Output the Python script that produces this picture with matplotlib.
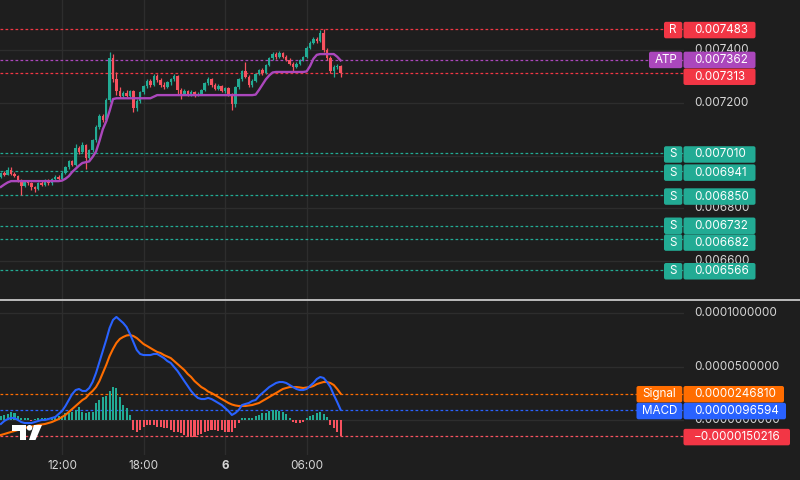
import matplotlib
matplotlib.use('Agg')
import matplotlib.pyplot as plt
import numpy as np
from matplotlib.patches import FancyBboxPatch, Polygon, Circle
from matplotlib.transforms import IdentityTransform

plt.rcParams['font.family'] = ['Inter', 'DejaVu Sans']

# 15 minute bars, bar 0 = 07:30 (prices in 1e-6)
opens = [6920, 6932, 6928, 6945, 6930, 6924, 6905, 6886, 6900, 6894, 6880, 6872, 6896, 6890, 6905, 6895, 6910, 6920, 6912, 6935,
         6955, 6978, 6966, 7030, 7012, 7040, 6990, 7020, 7058, 7108, 7150, 7136, 7212, 7372, 7292, 7245, 7228, 7238, 7228, 7244,
         7180, 7208, 7240, 7264, 7282, 7270, 7302, 7286, 7270, 7262, 7278, 7290, 7302, 7250, 7236, 7246, 7234, 7242, 7230, 7236,
         7250, 7275, 7292, 7268, 7255, 7266, 7246, 7256, 7232, 7196, 7260, 7290, 7320, 7300, 7270, 7285, 7310, 7325, 7315, 7345,
         7370, 7385, 7375, 7390, 7376, 7364, 7350, 7338, 7350, 7364, 7375, 7410, 7430, 7445, 7436, 7468, 7402, 7372, 7322, 7338,
         7342]
highs = [6938, 6942, 6955, 6958, 6936, 6928, 6910, 6905, 6908, 6898, 6885, 6900, 6902, 6910, 6910, 6915, 6925, 6926, 6940, 6962,
         6985, 6984, 7045, 7038, 7050, 7044, 7025, 7065, 7115, 7160, 7158, 7220, 7392, 7385, 7318, 7262, 7245, 7248, 7250, 7250,
         7215, 7245, 7270, 7290, 7290, 7312, 7310, 7295, 7278, 7285, 7295, 7312, 7308, 7258, 7252, 7250, 7248, 7246, 7242, 7255,
         7280, 7300, 7296, 7275, 7272, 7270, 7262, 7260, 7238, 7265, 7295, 7325, 7355, 7306, 7290, 7315, 7330, 7332, 7350, 7375,
         7395, 7392, 7396, 7394, 7382, 7370, 7355, 7356, 7368, 7380, 7415, 7435, 7450, 7452, 7478, 7483, 7410, 7380, 7345, 7348,
         7346]
lows = [6915, 6922, 6925, 6926, 6918, 6900, 6852, 6880, 6888, 6870, 6862, 6868, 6884, 6886, 6890, 6890, 6905, 6905, 6908, 6930,
        6950, 6960, 6962, 7005, 7008, 6950, 6982, 7015, 7050, 7100, 7128, 7130, 7205, 7280, 7232, 7220, 7220, 7222, 7224, 7165,
        7168, 7200, 7235, 7258, 7262, 7265, 7280, 7262, 7255, 7258, 7270, 7285, 7232, 7215, 7230, 7228, 7226, 7224, 7225, 7230,
        7245, 7268, 7262, 7248, 7250, 7240, 7238, 7225, 7175, 7185, 7255, 7285, 7295, 7262, 7262, 7280, 7305, 7308, 7310, 7340,
        7365, 7368, 7370, 7370, 7358, 7345, 7320, 7332, 7345, 7360, 7370, 7405, 7425, 7428, 7432, 7395, 7365, 7315, 7300, 7330,
        7300]
closes = [6932, 6928, 6945, 6930, 6924, 6905, 6886, 6900, 6894, 6880, 6872, 6896, 6890, 6905, 6895, 6910, 6920, 6912, 6935, 6955,
          6978, 6966, 7030, 7012, 7040, 6990, 7020, 7058, 7108, 7150, 7136, 7212, 7372, 7292, 7245, 7228, 7238, 7228, 7244, 7180,
          7208, 7240, 7264, 7282, 7270, 7302, 7286, 7270, 7262, 7278, 7290, 7302, 7250, 7236, 7246, 7234, 7242, 7230, 7236, 7250,
          7275, 7292, 7268, 7255, 7266, 7246, 7256, 7232, 7196, 7260, 7290, 7320, 7300, 7270, 7285, 7310, 7325, 7315, 7345, 7370,
          7385, 7375, 7390, 7376, 7364, 7350, 7338, 7350, 7364, 7375, 7410, 7430, 7445, 7436, 7468, 7402, 7372, 7322, 7338, 7342,
          7313]
atp = [6881, 6890, 6898, 6903, 6903, 6903, 6903, 6903, 6903, 6903, 6903, 6903, 6903, 6903, 6903, 6903, 6903, 6903, 6905, 6912,
       6922, 6938, 6950, 6962, 6972, 6975, 6978, 6995, 7015, 7055, 7100, 7130, 7170, 7215, 7218, 7218, 7218, 7218, 7218, 7218,
       7218, 7218, 7218, 7218, 7218, 7224, 7230, 7230, 7230, 7230, 7230, 7230, 7230, 7230, 7230, 7230, 7230, 7230, 7230, 7230,
       7230, 7230, 7230, 7230, 7230, 7230, 7230, 7230, 7230, 7230, 7230, 7230, 7230, 7230, 7230, 7232, 7250, 7270, 7290, 7305,
       7316, 7318, 7318, 7318, 7318, 7318, 7318, 7318, 7318, 7318, 7320, 7340, 7368, 7383, 7386, 7386, 7386, 7386, 7386, 7376,
       7362]

# MACD panel (values in 1e-6)
macd = [-3.7, -0.9, 0.9, 1.9, 1.9, 0.0, -1.9, -2.8, -2.8, -2.8, -1.9, -0.9, 0.0, 0.0, 0.9, 1.9, 2.8, 5.6, 8.4, 13.1,
        18.7, 24.3, 28.0, 29.0, 27.1, 27.1, 29.9, 35.5, 43.9, 54.2, 64.5, 74.8, 86.0, 93.5, 96.3, 93.5, 90.7, 86.9, 80.4, 72.9,
        65.4, 61.7, 60.7, 60.7, 60.7, 61.7, 61.7, 59.8, 57.9, 55.1, 53.3, 49.5, 45.8, 41.1, 36.4, 31.8, 27.1, 23.4, 20.6, 19.6,
        19.6, 20.6, 19.6, 17.8, 15.9, 14.0, 11.2, 8.4, 4.7, 6.5, 9.3, 14.0, 15.0, 15.9, 17.8, 18.7, 22.4, 25.2, 28.0, 30.8,
        32.7, 34.6, 35.5, 35.5, 34.6, 32.7, 30.8, 29.0, 28.0, 28.0, 29.0, 31.8, 34.6, 38.3, 40.2, 39.3, 35.5, 30.8, 23.4, 16.8,
        9.6594]
signal = [-14.0, -13.1, -12.1, -11.2, -10.3, -9.3, -8.4, -7.5, -6.5, -6.1, -5.6, -4.7, -4.2, -3.7, -2.8, -1.9, -0.5, 0.9, 2.8, 4.7,
          7.5, 10.3, 13.1, 15.9, 18.7, 20.6, 24.3, 27.1, 30.8, 36.4, 43.9, 51.4, 59.8, 66.4, 72.0, 75.7, 77.6, 79.0, 79.4, 78.5,
          76.6, 73.8, 71.0, 69.2, 67.3, 65.4, 63.6, 62.6, 60.7, 59.3, 57.9, 55.1, 52.3, 49.5, 46.7, 43.0, 40.2, 36.4, 33.6, 30.8,
          29.0, 26.6, 25.2, 23.4, 21.5, 19.6, 17.8, 15.9, 14.5, 13.6, 13.1, 13.1, 13.1, 13.6, 14.0, 15.0, 15.9, 17.8, 19.6, 21.5,
          23.4, 25.2, 27.1, 29.0, 29.9, 30.8, 30.8, 30.8, 30.4, 29.9, 30.4, 30.8, 31.8, 33.6, 34.6, 35.5, 35.5, 34.6, 32.7, 29.0,
          24.681]
hist = [3.7, 4.7, 5.6, 7.5, 6.5, 3.7, 1.9, 1.9, 1.9, -0.5, 0.5, 1.9, 2.3, 1.9, 2.3, 2.8, 2.8, 3.7, 3.7, 6.5,
        6.5, 7.5, 9.3, 12.1, 7.5, 6.5, 7.5, 7.5, 15.9, 18.7, 21.5, 22.4, 27.1, 30.8, 29.9, 21.5, 14.0, 11.2, 4.7, -9.3,
        -11.2, -9.3, -6.5, -4.7, -4.7, -4.7, -6.5, -6.5, -7.5, -7.5, -9.3, -11.2, -11.2, -12.1, -14.0, -15.9, -15.9, -15.9, -14.0, -13.1,
        -11.2, -10.3, -9.3, -9.3, -10.3, -9.3, -11.2, -11.2, -11.2, -7.5, -2.8, 1.9, 1.9, 1.9, 1.9, 3.7, 4.7, 6.5, 6.5, 8.4,
        9.3, 9.3, 8.4, 7.5, 5.6, 1.9, -1.9, -2.8, -2.8, -1.9, 1.9, 3.7, 4.7, 6.5, 7.5, 5.6, 2.8, -4.7, -7.5, -11.2,
        -15.0216]

support = [0.007010, 0.006941, 0.006850, 0.006732, 0.006682, 0.006566]
resistance = 0.007483
atp_last = 0.007362
last_price = 0.007313

time_ticks = [18, 42, 66, 90]
time_labels = ['12:00', '18:00', '6', '06:00']
price_ticks = [0.0074, 0.0072, 0.0070, 0.0068, 0.0066]
price_tick_labels = ['0.007400', '0.007200', '', '0.006800', '0.006600']  # 0.007000 sits under a label
macd_ticks = [0.0001, 0.00005, 0.0]

BG = '#1e1e1e'
GRID = '#2d2d2d'
TXT = '#d6d6d6'
UP = '#22ab94'
DN = '#f7525f'
RED = '#f23645'
PURPLE = '#ab47bc'
BLUE = '#2962ff'
ORANGE = '#ff6d00'

o = np.array(opens) / 1e6
h = np.array(highs) / 1e6
l = np.array(lows) / 1e6
c = np.array(closes) / 1e6
x = np.arange(len(c))

fig = plt.figure(figsize=(8, 4.8), dpi=100, facecolor=BG)
ax1 = fig.add_axes([0, 180 / 480, 684 / 800, 300 / 480])
ax2 = fig.add_axes([0, 25 / 480, 684 / 800, 154 / 480])
for ax in (ax1, ax2):
    ax.set_facecolor(BG)
    for s in ax.spines.values():
        s.set_visible(False)
    ax.set_xticks([])
    ax.set_yticks([])
    ax.set_xlim(-0.265, 201.1)
    for t in time_ticks:
        ax.axvline(t, color=GRID, lw=1, zorder=0)

ax1.set_ylim(0.0064510, 0.0075916)
ax2.set_ylim(-0.0000327, 0.00011121)
for p in price_ticks:
    ax1.axhline(p, color=GRID, lw=1, zorder=0)
for p in macd_ticks:
    ax2.axhline(p, color=GRID, lw=1, zorder=0)

# candles
colors = [UP if cc >= oo else DN for oo, cc in zip(o, c)]
ax1.vlines(x, l, h, colors=colors, lw=0.9, zorder=3)
body = np.maximum(np.abs(c - o), 0.0000015)
ax1.bar(x, body, width=0.72, bottom=np.minimum(o, c), color=colors, zorder=4)
ax1.plot(x, np.array(atp) / 1e6, color=PURPLE, lw=1.7, zorder=5)

dash = (0, (2.2, 1.8))
ax1.axhline(resistance, color=RED, lw=0.9, ls=dash, zorder=2)
ax1.axhline(atp_last, color=PURPLE, lw=0.9, ls=dash, zorder=2)
ax1.axhline(last_price, color=RED, lw=0.9, ls=dash, zorder=2)
for s in support:
    ax1.axhline(s, color=UP, lw=0.9, ls=dash, zorder=2)

# MACD
hv = np.array(hist) / 1e6
ax2.bar(x, hv, width=0.6, color=[UP if v >= 0 else DN for v in hv], zorder=3)
ax2.plot(x, np.array(signal) / 1e6, color=ORANGE, lw=1.5, zorder=4)
ax2.plot(x, np.array(macd) / 1e6, color=BLUE, lw=1.5, zorder=5)
ax2.axhline(signal[-1] / 1e6, color=ORANGE, lw=0.9, ls=dash, zorder=2)
ax2.axhline(macd[-1] / 1e6, color=BLUE, lw=0.9, ls=dash, zorder=2)
ax2.axhline(hist[-1] / 1e6, color=DN, lw=0.9, ls=dash, zorder=2)

# separator between panes
fig.add_artist(plt.Line2D([0, 1], [180 / 480, 180 / 480], color='#e6e6e6', lw=1.1))

IDT = IdentityTransform()
BOX_H = 16.5
FS = 8.4


def ypix(ax, v):
    return ax.transData.transform((0, v))[1]


def ptext(px, py, s, color=TXT, ha='left', z=3, weight='normal'):
    fig.text(px, py, s, transform=IDT, color=color, fontsize=FS, ha=ha, va='center', zorder=z, fontweight=weight)


def box(x0, x1, yc, color):
    fig.add_artist(FancyBboxPatch((x0, yc - BOX_H / 2), x1 - x0, BOX_H,
                                  boxstyle='round,pad=0,rounding_size=2', transform=IDT,
                                  fc=color, ec='none', zorder=5))


def spread(ys):
    # push overlapping labels apart (ys in display coords, descending)
    ys = list(ys)
    for i in range(1, len(ys)):
        gap = ys[i - 1] - ys[i]
        if gap < BOX_H + 0.3:
            d = (BOX_H + 0.3 - gap) / 2
            ys[i - 1] += d
            ys[i] -= d
    return ys


for p, lab in zip(price_ticks, price_tick_labels):
    if lab:
        ptext(694, ypix(ax1, p), lab)
for p in macd_ticks:
    ptext(694, ypix(ax2, p), f'{p:.10f}')

# price pane labels
main_lbls = [('R', resistance, RED), ('ATP', atp_last, PURPLE), ('', last_price, RED)] + [('S', s, UP) for s in support]
ys = spread([ypix(ax1, v) - 1.5 for _, v, _ in main_lbls])
for (tag, v, col), yc in zip(main_lbls, ys):
    box(683.5, 755.5, yc, col)
    ptext(694, yc, f'{v:.6f}', color='white', z=6)
    if tag:
        x0 = 664 if len(tag) == 1 else 649
        box(x0, 682.3, yc, col)
        ptext((x0 + 682.3) / 2, yc, tag, color='white', ha='center', z=6)

macd_lbls = [('Signal', signal[-1] / 1e6, ORANGE, 784), ('MACD', macd[-1] / 1e6, BLUE, 786),
             ('', hist[-1] / 1e6, RED, 790)]
ys = spread([ypix(ax2, v) - 1.0 for _, v, _, _ in macd_lbls])
for (tag, v, col, xr), yc in zip(macd_lbls, ys):
    box(683.5, xr, yc, col)
    ptext(694, yc, f'{v:.10f}'.replace('-', '\u2212'), color='white', z=6)
    if tag:
        box(636.5, 682.3, yc, col)
        ptext(659.4, yc, tag, color='white', ha='center', z=6)

# time axis
for t, lab in zip(time_ticks, time_labels):
    px = ax2.transData.transform((t, 0))[0]
    ptext(px, 14, lab, ha='center', weight='bold' if lab == '6' else 'normal')

# TradingView logo
def P(px, ptop):
    return (px, 480 - ptop)


fig.add_artist(Polygon([P(12, 425), P(25.5, 425), P(25.5, 440), P(19.5, 440), P(19.5, 430.5), P(12, 430.5)],
                       closed=True, transform=IDT, fc='white', ec='none', zorder=6))
fig.add_artist(Circle(P(29.5, 427.8), 2.8, transform=IDT, fc='white', ec='none', zorder=6))
fig.add_artist(Polygon([P(34, 425), P(42, 425), P(35.5, 440), P(29, 440)],
                       closed=True, transform=IDT, fc='white', ec='none', zorder=6))

fig.savefig('out.png', dpi=100, facecolor=BG)
